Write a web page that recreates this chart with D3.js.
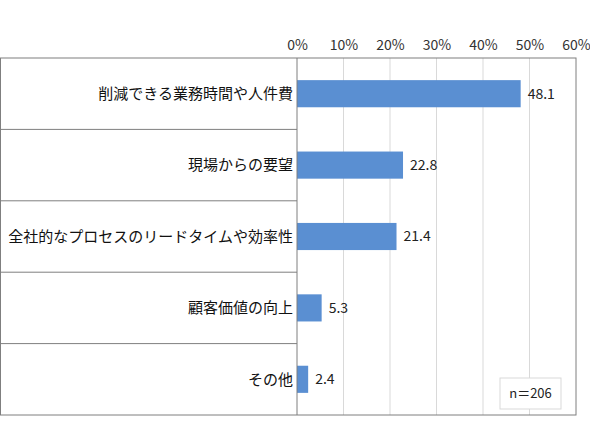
<!DOCTYPE html>
<html>
<head>
<meta charset="utf-8">
<script src="https://cdn.jsdelivr.net/npm/d3@7"></script>
<style>
  body { margin: 0; background: #fff; }
  text { font-family: "Noto Sans CJK JP", "Noto Sans", sans-serif; }
</style>
</head>
<body>
<div id="chart"></div>
<script>
const categories = ["削減できる業務時間や人件費", "現場からの要望", "全社的なプロセスのリードタイムや効率性", "顧客価値の向上", "その他"];
const values = [48.1, 22.8, 21.4, 5.3, 2.4];
const tickValues = [0, 10, 20, 30, 40, 50, 60];
const sampleNote = "n＝206";

const width = 590, height = 435;
const margin = {top: 58, right: 14, bottom: 20, left: 297};

const x = d3.scaleLinear()
    .domain([0, 60])
    .range([margin.left, width - margin.right]);

const y = d3.scaleBand()
    .domain(categories)
    .range([margin.top, height - margin.bottom])
    .paddingInner(0.62)
    .paddingOuter(0.31);

const svg = d3.select("#chart").append("svg")
    .attr("width", width)
    .attr("height", height)
    .attr("viewBox", [0, 0, width, height]);

// gridlines
svg.append("g")
    .selectAll("line")
    .data(tickValues.slice(1, -1))
    .enter().append("line")
        .attr("x1", d => x(d)).attr("x2", d => x(d))
        .attr("y1", margin.top).attr("y2", height - margin.bottom)
        .attr("stroke", "#d9d9d9")
        .attr("stroke-width", 1);

// top axis
svg.append("g")
    .attr("transform", `translate(0,${margin.top - 8})`)
    .call(d3.axisTop(x).tickValues(tickValues).tickFormat(d => d + "%").tickSize(0).tickPadding(0))
    .call(g => g.select(".domain").remove())
    .call(g => g.selectAll("text")
        .attr("font-size", "14px")
        .attr("fill", "#333")
        .style("font-family", '"Noto Sans CJK JP", sans-serif'));

// bars
svg.append("g")
    .attr("fill", "#5a8fd2")
    .selectAll("rect")
    .data(values)
    .enter().append("rect")
        .attr("x", x(0))
        .attr("y", (d, i) => y(categories[i]))
        .attr("width", d => x(d) - x(0))
        .attr("height", y.bandwidth());

// value labels
svg.append("g")
    .selectAll("text")
    .data(values)
    .enter().append("text")
        .attr("x", d => x(d) + 7)
        .attr("y", (d, i) => y(categories[i]) + y.bandwidth() / 2)
        .attr("dy", "0.35em")
        .attr("font-size", "14px")
        .attr("fill", "#222")
        .text(d => d.toFixed(1));

// category table on the left
const rowStep = (height - margin.bottom - margin.top) / categories.length;
svg.append("g")
    .selectAll("line")
    .data(d3.range(1, categories.length))
    .enter().append("line")
        .attr("x1", 0).attr("x2", margin.left)
        .attr("y1", d => margin.top + d * rowStep)
        .attr("y2", d => margin.top + d * rowStep)
        .attr("stroke", "#7f7f7f");

svg.append("g")
    .selectAll("text")
    .data(categories)
    .enter().append("text")
        .attr("x", margin.left - 4)
        .attr("y", d => y(d) + y.bandwidth() / 2)
        .attr("dy", "0.35em")
        .attr("text-anchor", "end")
        .attr("font-size", "15px")
        .attr("fill", "#111")
        .text(d => d);

// outer frame
svg.append("rect")
    .attr("x", 0.5).attr("y", margin.top)
    .attr("width", x(60) - 0.5)
    .attr("height", height - margin.bottom - margin.top)
    .attr("fill", "none")
    .attr("stroke", "#7f7f7f");

// zero axis
svg.append("line")
    .attr("x1", x(0)).attr("x2", x(0))
    .attr("y1", margin.top).attr("y2", height - margin.bottom)
    .attr("stroke", "#7f7f7f");

// n note
const note = svg.append("g").attr("transform", "translate(500,378)");
note.append("rect")
    .attr("width", 61).attr("height", 31)
    .attr("fill", "#fff")
    .attr("stroke", "#d9d9d9");
note.append("text")
    .attr("x", 30.5).attr("y", 15.5)
    .attr("dy", "0.35em")
    .attr("text-anchor", "middle")
    .attr("font-size", "13px")
    .attr("fill", "#222")
    .text(sampleNote);
</script>
</body>
</html>
